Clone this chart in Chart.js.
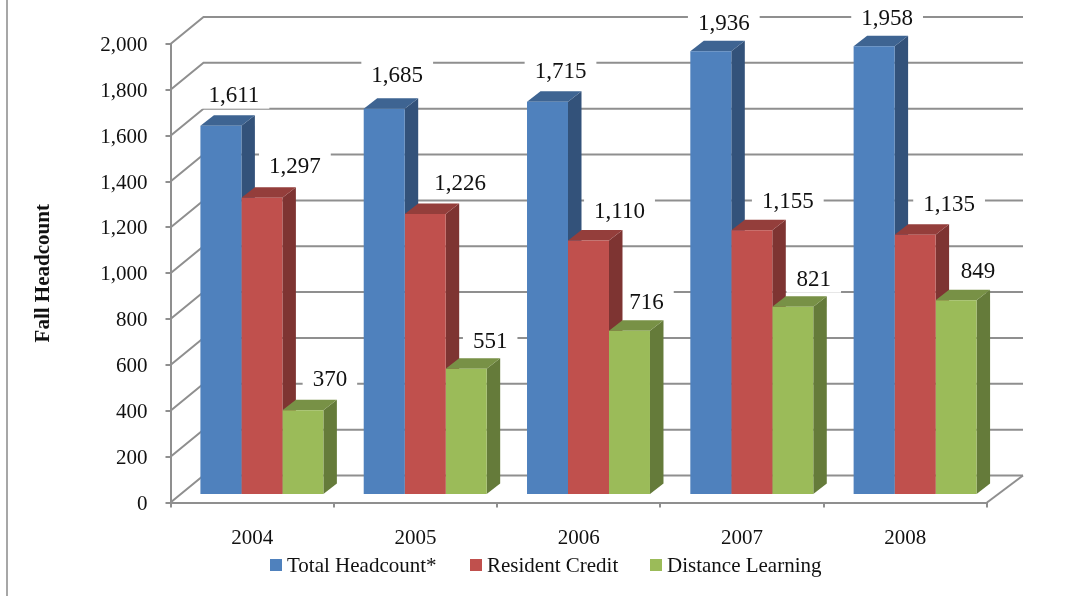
<!DOCTYPE html>
<html>
<head>
<meta charset="utf-8">
<title>Fall Headcount</title>
<script src="https://cdn.jsdelivr.net/npm/chart.js@4"></script>
<style>
  html, body { margin: 0; padding: 0; background: #fff; }
  canvas { display: block; }
</style>
</head>
<body>
<canvas id="headcountChart" width="1078" height="596"></canvas>
<script>
/* Data */
const years = ["2004", "2005", "2006", "2007", "2008"];
const totalHeadcount = [1611, 1685, 1715, 1936, 1958];
const residentCredit = [1297, 1226, 1110, 1155, 1135];
const distanceLearning = [370, 551, 716, 821, 849];
const seriesNames = ["Total Headcount*", "Resident Credit", "Distance Learning"];

/* Styles */
const frontColors = ["#4F81BD", "#C0504D", "#9BBB59"];
const sideColors = ["#33527A", "#7E3432", "#657B3A"];
const topColors = ["#3E6492", "#943E3B", "#789146"];
const gridColor = "#8F8F8F";
const textColor = "#111";
const fontFamily = '"Liberation Serif", serif';

/* Depth of the fake 3D box */
const plotLeft = 170.5, plotRight = 987, plotTop = 44, plotBottom = 502.5;
const barShiftX = 9.75, barShiftY = -7.5;
const barDepthX = 13.5, barDepthY = -10.5;
const wallDepthX = 33, wallDepthY = -27, wallRight = 1023;

/* Where each label sits relative to the top of its bar */
const labelNudgeX = [
    [13, 13, 13, 13, 13],
    [33, 35, 31, 36, 34],
    [27, 24, 17, 21, 22]
];
const labelNudgeY = [
    [-31, -34, -31, -29, -29],
    [-32, -31, -30, -30, -31],
    [-32, -28, -29, -28, -30]
];

function fillShape(ctx, color, points) {
    ctx.fillStyle = color;
    ctx.beginPath();
    points.forEach((p, i) => i ? ctx.lineTo(p[0], p[1]) : ctx.moveTo(p[0], p[1]));
    ctx.closePath();
    ctx.fill();
}

function strokeLine(ctx, points) {
    ctx.beginPath();
    points.forEach((p, i) => i ? ctx.lineTo(p[0], p[1]) : ctx.moveTo(p[0], p[1]));
    ctx.stroke();
}

function eachLabel(chart, draw) {
    chart.data.datasets.forEach((ds, d) => {
        ds.data.forEach((value, i) => {
            const bar = chart.getDatasetMeta(d).data[i];
            draw(
                value.toLocaleString("en-US"),
                bar.x + barShiftX + labelNudgeX[d][i],
                bar.y + barShiftY + labelNudgeY[d][i]
            );
        });
    });
}

const box3d = {
    id: "box3d",
    beforeDatasetsDraw(chart) {
        const ctx = chart.ctx;
        const yScale = chart.scales.y;
        const area = chart.chartArea;

        /* frame line on the left of the picture */
        ctx.save();
        ctx.strokeStyle = "#8A8A8A";
        ctx.lineWidth = 1.5;
        strokeLine(ctx, [[7, 0], [7, 596]]);

        /* back wall and floor */
        ctx.strokeStyle = gridColor;
        ctx.lineWidth = 2;
        yScale.ticks.forEach(tick => {
            const y = yScale.getPixelForValue(tick.value);
            strokeLine(ctx, [
                [area.left, y],
                [area.left + wallDepthX, y + wallDepthY],
                [wallRight, y + wallDepthY]
            ]);
        });
        strokeLine(ctx, [
            [area.right, area.bottom],
            [wallRight, area.bottom + wallDepthY]
        ]);

        /* white boxes of the value labels break the grid lines but stay behind the bars */
        ctx.font = "23px " + fontFamily;
        ctx.fillStyle = "#fff";
        eachLabel(chart, (text, x, y) => {
            const w = ctx.measureText(text).width + 20;
            ctx.fillRect(x - w / 2, y - 14, w, 28);
        });
        ctx.restore();

        /* bars sit a little behind the axis plane; stays on until afterDatasetsDraw */
        ctx.save();
        ctx.translate(barShiftX, barShiftY);

        years.forEach((year, i) => {
            chart.data.datasets.forEach((ds, d) => {
                const bar = chart.getDatasetMeta(d).data[i];
                const left = bar.x - bar.width / 2;
                const right = bar.x + bar.width / 2;
                const top = bar.y;
                const base = bar.base;

                fillShape(ctx, sideColors[d], [
                    [right, top],
                    [right + barDepthX, top + barDepthY],
                    [right + barDepthX, base + barDepthY],
                    [right, base]
                ]);
                fillShape(ctx, topColors[d], [
                    [left, top],
                    [left + barDepthX, top + barDepthY],
                    [right + barDepthX, top + barDepthY],
                    [right, top]
                ]);
            });
        });
    },
    afterDatasetsDraw(chart) {
        const ctx = chart.ctx;
        ctx.restore();

        /* Value labels */
        ctx.save();
        ctx.font = "23px " + fontFamily;
        ctx.textAlign = "center";
        ctx.textBaseline = "middle";
        ctx.fillStyle = textColor;
        eachLabel(chart, (text, x, y) => ctx.fillText(text, x, y + 1.5));
        ctx.restore();

        /* Legend */
        ctx.save();
        ctx.font = "21px " + fontFamily;
        ctx.textAlign = "left";
        ctx.textBaseline = "middle";
        const legendX = [270, 470, 650];
        seriesNames.forEach((name, d) => {
            ctx.fillStyle = frontColors[d];
            ctx.fillRect(legendX[d], 559, 12, 12);
            ctx.fillStyle = textColor;
            ctx.fillText(name, legendX[d] + 17, 566);
        });
        ctx.restore();
    }
};

new Chart(document.querySelector("#headcountChart"), {
    type: "bar",
    data: {
        labels: years,
        datasets: [
            { label: seriesNames[0], data: totalHeadcount, backgroundColor: frontColors[0] },
            { label: seriesNames[1], data: residentCredit, backgroundColor: frontColors[1] },
            { label: seriesNames[2], data: distanceLearning, backgroundColor: frontColors[2] }
        ]
    },
    options: {
        responsive: false,
        animation: false,
        layout: {
            padding: { left: 0, right: 1078 - plotRight, top: plotTop, bottom: 0 }
        },
        datasets: {
            bar: { barPercentage: 1, categoryPercentage: 0.753, borderWidth: 0 }
        },
        plugins: {
            legend: { display: false },
            tooltip: { enabled: false }
        },
        scales: {
            x: {
                afterFit(scale) { scale.height = 596 - plotBottom; },
                grid: { drawOnChartArea: false, tickLength: 5, color: gridColor, lineWidth: 2 },
                border: { color: gridColor, width: 2 },
                ticks: {
                    color: textColor,
                    padding: 18,
                    maxRotation: 0,
                    font: { family: fontFamily, size: 21 }
                }
            },
            y: {
                min: 0,
                max: 2000,
                afterFit(scale) { scale.width = plotLeft; },
                grid: { drawOnChartArea: false, tickLength: 5, color: gridColor, lineWidth: 2 },
                border: { color: gridColor, width: 2 },
                title: {
                    display: true,
                    text: "Fall Headcount",
                    color: textColor,
                    padding: { top: 31, bottom: 0 },
                    font: { family: fontFamily, size: 21, weight: "bold" }
                },
                ticks: {
                    stepSize: 200,
                    color: textColor,
                    padding: 18,
                    /* small line height plus an empty first line nudges the text 2px down */
                    font: { family: fontFamily, size: 21, lineHeight: "3px" },
                    callback: value => ["", value.toLocaleString("en-US")]
                }
            }
        }
    },
    plugins: [box3d]
});
</script>
</body>
</html>
